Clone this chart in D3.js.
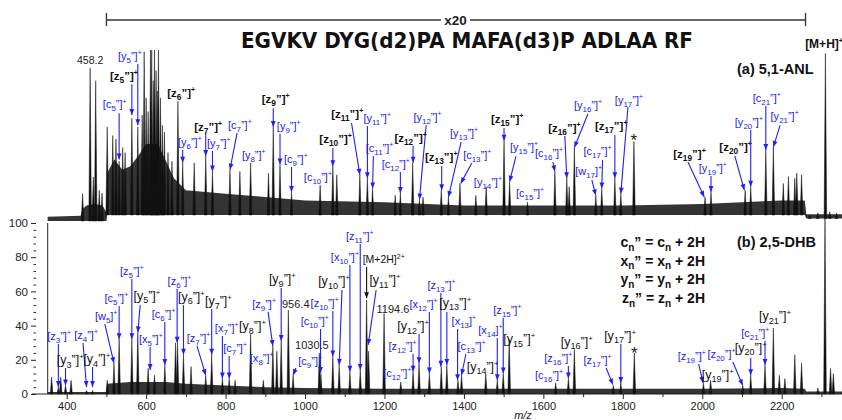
<!DOCTYPE html>
<html>
<head>
<meta charset="utf-8">
<script src="https://cdn.jsdelivr.net/npm/d3@7"></script>
<style>
  body { margin: 0; background: #fff; }
  svg { display: block; font-family: "Liberation Sans", Arial, sans-serif; }
</style>
</head>
<body>
<svg id="chart" width="842" height="420"></svg>
<script>
// MALDI-ISD spectrum, two matrices
const BLUE = "#2020f0";
const INK = "#111";

// axis ticks
const xMajor = [400, 600, 800, 1000, 1200, 1400, 1600, 1800, 2000, 2200];
const xMinor = [500, 700, 900, 1100, 1300, 1500, 1700, 1900, 2100, 2300];
const yMajor = [0, 20, 40, 60, 80, 100];
const yMinor = [4, 8, 12, 16, 24, 28, 32, 36, 44, 48, 52, 56, 64, 68, 72, 76, 84, 88, 92, 96];

// (a) 5,1-ANL : noise band [m/z, low, high] and peaks [m/z, intensity]
const topNoise = [
  [352, 0, 2.5], [435, 0, 3], [440, 0, 7], [450, 0, 9], [470, 0, 10], [490, 0, 9], [500, 0, 5],
  [502, 3.5, 28], [520, 3.5, 36], [540, 3.5, 30], [560, 3.5, 32], [580, 3.5, 38], [600, 3.5, 45],
  [630, 3.5, 45], [650, 3.5, 35], [670, 3.5, 25], [700, 3.5, 18], [800, 3.5, 16], [900, 3.5, 14],
  [1000, 3.5, 12], [1200, 3.5, 11], [1400, 3.5, 9], [1800, 3.5, 9], [2000, 3.5, 10], [2200, 3.5, 12],
  [2258, 3.5, 12], [2262, 1.5, 4], [2353, 1.5, 4]
];
const topPeaks = [
  [440, 16], [459, 89.5], [467, 25.7], [473, 82], [482, 18], [489, 16.4],
  [502, 55], [516, 50], [524, 48], [532, 35], [541, 43], [547, 40], [564, 60], [579, 55],
  [590, 62], [595, 99], [600, 72], [605, 64], [611, 100], [614, 100], [618, 82], [621, 100],
  [625, 88], [628, 76], [631, 100], [636, 72], [641, 56], [646, 52], [655, 40], [665, 35],
  [680, 70], [692, 34], [721, 34], [750, 38], [767, 29], [811, 30], [836, 29], [863, 34],
  [908, 28], [920, 55], [937, 33], [966, 17], [1038, 21], [1070, 32], [1080, 27], [1138, 27],
  [1157, 25], [1170, 19], [1227, 15], [1240, 16.4], [1271, 34], [1288, 12.5], [1297, 14],
  [1343, 18], [1361, 14], [1390, 22], [1430, 15], [1456, 20], [1501, 47], [1515, 23],
  [1560, 11], [1629, 29], [1659, 25], [1665, 20], [1678, 43], [1732, 15], [1747, 19],
  [1780, 25], [1795, 16], [1828, 46.5], [2007, 14], [2022, 17], [2108, 18], [2122, 20],
  [2160, 41.5], [2179, 43.3], [2204, 22], [2217, 26], [2233, 25], [2238, 28], [2250, 27],
  [2271, 3.5], [2291, 4.7], [2310, 98], [2321, 5.3], [2338, 4.7]
];

// (b) 2,5-DHB : noise top [m/z, high] and peaks [m/z, relative intensity %]
const botNoise = [
  [352, 1.2], [500, 1.2], [502, 6], [560, 7], [650, 7], [700, 6], [800, 5], [900, 4],
  [1000, 3.5], [1200, 3], [1600, 3], [2000, 3], [2200, 3.5], [2258, 3], [2262, 1.5], [2353, 1.5]
];
const botPeaks = [
  [362, 10], [379, 4], [385, 10], [397, 5], [411, 8], [450, 2], [465, 2],
  [502, 8], [519, 18], [532, 32], [564, 32], [579, 36], [605, 15], [621, 11], [647, 17],
  [674, 30], [679, 30], [694, 23], [713, 16], [750, 11], [765, 23], [792, 9], [809, 9],
  [824, 8], [863, 35], [895, 8], [919, 28], [929, 25], [940, 31], [958, 49], [970, 11],
  [1036, 24], [1040, 12], [1070, 22], [1086, 17], [1113, 13], [1139, 14], [1155, 55],
  [1160, 25], [1199, 47], [1241, 7], [1272, 13], [1287, 18], [1313, 12], [1343, 16],
  [1357, 17], [1385, 8], [1394, 11], [1455, 12], [1484, 8], [1499, 12], [1514, 32],
  [1631, 6.5], [1663, 9], [1678, 26], [1776, 5], [1795, 6.5], [1829, 24], [2003, 6.5],
  [2021, 8], [2102, 5], [2122, 11], [2158, 17], [2179, 38.6], [2194, 11], [2208, 9],
  [2233, 23], [2250, 18], [2291, 3.5], [2309, 105], [2323, 15], [2330, 12]
];

// ion labels: [ion (trailing _ = no primes), colour, label m/z, label intensity, arrow [m/z, I, m/z, I]]
const topIons = [
  ["z5", "k", 509, 82.5, [564, 80, 564, 62]],
  ["y5", "b", 529, 94.2, [579, 91.8, 579, 56]],
  ["c5", "b", 491, 66, [532, 63, 532, 36]],
  ["z6", "k", 653, 72.5, null],
  ["z7", "k", 721, 52.6, [750, 51, 750, 38]],
  ["c7", "b", 806, 53.8, [829, 51.5, 811, 30]],
  ["y6", "b", 680, 43.9, [692, 41.5, 692, 34]],
  ["y7", "b", 753, 43.3, [767, 41, 767, 29]],
  ["y8", "b", 841, 36.3, null],
  ["z9", "k", 891, 69, [920, 66, 920, 55]],
  ["y9", "b", 929, 53.2, [937, 51, 937, 33]],
  ["c9", "b", 947, 33.9, [966, 31.6, 966, 17]],
  ["c10", "b", 997, 23.4, null],
  ["z10", "k", 1036, 45.6, [1070, 42.7, 1070, 32]],
  ["z11", "k", 1066, 60.2, [1117, 57.3, 1138, 27]],
  ["y11", "b", 1147, 57.9, [1157, 55.6, 1157, 25]],
  ["c11", "b", 1153, 40.4, [1172, 38, 1170, 19]],
  ["z12", "k", 1225, 46.2, [1272, 44, 1272, 34]],
  ["c12", "b", 1193, 31, [1240, 28.7, 1240, 16.4]],
  ["y12", "b", 1273, 58.5, [1305, 56, 1288, 12.5]],
  ["y13", "b", 1365, 49.1, [1393, 46.2, 1361, 14]],
  ["z13", "k", 1302, 35.1, [1344, 32.2, 1344, 18]],
  ["c13", "b", 1398, 36.3, [1420, 33.9, 1392, 22]],
  ["y14", "b", 1425, 20.5, null],
  ["z15", "k", 1468, 57.3, [1501, 54.4, 1501, 47]],
  ["y15", "b", 1516, 40.9, [1531, 38, 1515, 23]],
  ["c15", "b", 1531, 14, null],
  ["c16", "b", 1579, 37.4, [1624, 34.5, 1629, 29]],
  ["z16", "k", 1612, 52, [1654, 49.7, 1659, 25]],
  ["y16", "b", 1677, 65.5, [1712, 62.6, 1678, 43]],
  ["c17", "b", 1701, 38.6, [1749, 35.7, 1747, 19]],
  ["w17_", "b", 1680, 26.9, [1722, 24, 1732, 15]],
  ["z17", "k", 1730, 53.2, [1780, 50.3, 1780, 25]],
  ["y17", "b", 1780, 68.4, [1813, 66.7, 1795, 16]],
  ["z19", "k", 1927, 36.8, [1964, 34.5, 2005, 14]],
  ["y19", "b", 1991, 28.7, [2022, 26.3, 2022, 17]],
  ["z20", "k", 2043, 40.9, [2082, 38, 2106, 18]],
  ["y20", "b", 2082, 55.6, [2122, 53.2, 2122, 20]],
  ["c21", "b", 2127, 69.6, [2160, 67.3, 2160, 41.5]],
  ["y21", "b", 2172, 59.1, [2196, 56.1, 2179, 43.3]]
];
const botIons = [
  ["z3", "b", 351, 31.6, [379, 29.2, 379, 4.1]],
  ["y3", "k", 375, 17.5, [397, 15.2, 397, 5]],
  ["z4", "b", 419, 32.2, [441, 29.8, 450, 4.1]],
  ["y4", "k", 442, 18.1, [465, 15.8, 465, 4.1]],
  ["w5_", "b", 471, 43.3, [496, 40.9, 519, 18]],
  ["c5", "b", 495, 53.8, [532, 51.5, 532, 32]],
  ["z5", "b", 534, 69.6, [564, 67.3, 564, 32]],
  ["y5", "k", 568, 55, [585, 52, 579, 36]],
  ["x5", "b", 582, 29.8, [610, 27.5, 610, 14]],
  ["c6", "b", 614, 44.4, [647, 42.1, 647, 17]],
  ["z6", "b", 654, 63.7, [678, 61.4, 678, 30]],
  ["y6", "k", 680, 54.4, [694, 52, 694, 23]],
  ["y7", "k", 748, 52, [765, 49.7, 765, 23]],
  ["z7", "b", 702, 30.4, [728, 28.1, 750, 11]],
  ["x7", "b", 773, 36.3, [792, 33.9, 792, 9]],
  ["c7", "b", 794, 24.6, [809, 22.2, 809, 9]],
  ["y8", "k", 834, 37.4, null],
  ["z9", "b", 867, 50.3, [907, 48, 919, 28]],
  ["x8", "b", 861, 18.7, null],
  ["y9", "k", 909, 64.9, [940, 62, 940, 31]],
  ["c9", "b", 983, 17, [977, 15.2, 970, 11]],
  ["c10", "b", 989, 40.4, [1039, 38, 1039, 12.3]],
  ["z10", "b", 1014, 50.9, [1070, 48.5, 1070, 22]],
  ["y10", "k", 1033, 63.7, [1093, 60.8, 1086, 17]],
  ["x10", "b", 1065, 77.8, [1113, 75.4, 1113, 13]],
  ["z11", "b", 1103, 90.1, [1139, 87.7, 1139, 14]],
  ["y11", "k", 1162, 64.3, [1179, 60.8, 1159, 28.7]],
  ["z12", "b", 1210, 25.7, [1272, 23.4, 1272, 13]],
  ["y12", "k", 1232, 37.4, [1287, 35.1, 1287, 18]],
  ["c12", "b", 1197, 9.9, null],
  ["x12", "b", 1263, 50.3, [1313, 48, 1313, 12]],
  ["z13", "b", 1308, 61.4, [1342, 59.1, 1342, 16]],
  ["y13", "k", 1338, 50.9, [1357, 48, 1357, 17]],
  ["x13_", "b", 1369, 40.4, [1384, 38, 1384, 8]],
  ["c13", "b", 1384, 25.7, [1405, 23.4, 1394, 11]],
  ["y14", "k", 1407, 13.5, null],
  ["x14_", "b", 1436, 35.1, [1484, 32.7, 1484, 8]],
  ["z15", "b", 1474, 46.8, [1499, 44.4, 1499, 12]],
  ["y15", "k", 1499, 29.8, null],
  ["z16", "b", 1602, 18.7, [1663, 16.4, 1663, 9]],
  ["c16", "b", 1579, 8.8, null],
  ["y16", "k", 1644, 28.1, null],
  ["z17", "b", 1701, 17.5, [1758, 15.2, 1775, 5.5]],
  ["y17", "k", 1753, 31.6, [1795, 29.2, 1795, 6.5]],
  ["z19", "b", 1938, 19.9, [1991, 17.5, 2002, 6.5]],
  ["z20", "b", 2013, 21.1, [2077, 18.7, 2102, 5]],
  ["y19", "k", 1999, 8.8, null],
  ["y20", "k", 2082, 24.6, [2122, 21.1, 2122, 11]],
  ["c21", "b", 2098, 33.5, [2158, 31, 2158, 17]],
  ["y21", "k", 2143, 43, null]
];

// plain text notes: [text, m/z, intensity, anchor, size]
const topNotes = [["458.2", 459, 91.8, "middle", 10.5], ["*", 1828, 43.9, "middle", 17]];
const botNotes = [
  ["956.4", 942, 50.3, "start", 11], ["1030.5", 975, 26.3, "start", 11],
  ["1194.6", 1180, 47.4, "start", 11], ["*", 1829, 20.5, "middle", 17]
];

const svg = d3.select("#chart");
const x = d3.scaleLinear().domain([400, 2200]).range([66.7, 781.7]);
const yTop = d3.scaleLinear().domain([0, 100]).range([221, 50]);
const yBot = d3.scaleLinear().domain([0, 100]).range([394, 223]);

const defs = svg.append("defs");
[["ahb", BLUE], ["ahk", INK]].forEach(([id, c]) => {
  defs.append("marker").attr("id", id)
    .attr("viewBox", "0 0 10 10").attr("refX", 10).attr("refY", 5)
    .attr("markerWidth", 7).attr("markerHeight", 6)
    .attr("markerUnits", "userSpaceOnUse").attr("orient", "auto")
    .append("path").attr("d", "M0,1L10,5L0,9Z").attr("fill", c);
});

// ---- spectra ----
const topLo = d3.scaleLinear().domain(topNoise.map(d => d[0])).range(topNoise.map(d => d[1])).clamp(true);

svg.append("path").datum(topNoise)
  .attr("fill", INK).attr("fill-opacity", 0.85)
  .attr("d", d3.area().x(d => x(d[0])).y0(d => yTop(d[1])).y1(d => yTop(d[2])));

svg.append("path").datum(botNoise)
  .attr("fill", INK).attr("fill-opacity", 0.85)
  .attr("d", d3.area().x(d => x(d[0])).y0(yBot(0)).y1(d => yBot(d[1])));

function spike(px, base, top) {
  return `M${px - 1.3},${base}L${px},${top}L${px + 1.3},${base}Z`;
}

svg.append("g").selectAll("path").data(topPeaks).join("path")
  .attr("fill", INK).attr("stroke", INK).attr("stroke-width", 0.5)
  .attr("d", d => spike(x(d[0]), yTop(topLo(d[0])), yTop(d[1])));

svg.append("g").selectAll("path").data(botPeaks).join("path")
  .attr("fill", INK).attr("stroke", INK).attr("stroke-width", 0.5)
  .attr("d", d => spike(x(d[0]), yBot(0), yBot(d[1])));

// ---- axes ----
const gx = svg.append("g").attr("transform", `translate(0,${yBot(0)})`);
gx.call(d3.axisBottom(x).tickValues(xMajor).tickSize(5).tickPadding(3).tickFormat(d3.format("d")))
  .call(g => g.select(".domain").remove());
gx.call(g => g.append("g").call(d3.axisBottom(x).tickValues(xMinor).tickSize(3).tickFormat(""))
  .call(s => s.select(".domain").remove()));
gx.attr("font-size", 11).attr("font-family", "Liberation Sans, Arial, sans-serif").attr("color", "#222");
gx.append("line").attr("x1", 32).attr("x2", 842).attr("stroke", "#222");

const gy = svg.append("g").attr("transform", "translate(36,0)");
gy.call(d3.axisLeft(yBot).tickValues(yMajor).tickSize(5).tickPadding(3))
  .call(g => g.select(".domain").remove());
gy.call(g => g.append("g").call(d3.axisLeft(yBot).tickValues(yMinor).tickSize(2.5).tickFormat(""))
  .call(s => s.select(".domain").remove()));
gy.attr("font-size", 11.5).attr("font-family", "Liberation Sans, Arial, sans-serif").attr("color", "#222");

svg.append("line").attr("x1", 47.7).attr("x2", 47.7).attr("y1", yBot(100)).attr("y2", yBot(0))
  .attr("stroke", "#222");

svg.append("text").attr("x", 523).attr("y", 419).attr("text-anchor", "middle")
  .attr("font-size", 11).attr("font-style", "italic").attr("fill", "#222").text("m/z");

// ---- annotations ----
function ionLabel(g, d, ys, kSize, kWeight, bSize) {
  const [id, col, mz, I, arr] = d;
  const black = col === "k";
  const fs = black ? kSize : bSize;
  const noPrime = id.endsWith("_");
  const letter = id[0], num = id.slice(1).replace("_", "");
  if (arr) {
    g.append("line")
      .attr("x1", x(arr[0])).attr("y1", ys(arr[1]))
      .attr("x2", x(arr[2])).attr("y2", ys(arr[3]))
      .attr("stroke", BLUE).attr("stroke-width", 1.1)
      .attr("marker-end", "url(#ahb)");
  }
  const t = g.append("text").attr("x", x(mz)).attr("y", ys(I))
    .attr("fill", black ? INK : BLUE).attr("font-size", fs)
    .attr("font-weight", black ? kWeight : "normal");
  t.append("tspan").text("[" + letter);
  t.append("tspan").attr("dy", fs * 0.28).attr("font-size", fs * 0.72).text(num);
  t.append("tspan").attr("dy", -fs * 0.28).text((noPrime ? "" : "\u201D") + "]");
  t.append("tspan").attr("dy", -fs * 0.42).attr("font-size", fs * 0.62).text("+");
}

const gTopLab = svg.append("g");
topIons.forEach(d => ionLabel(gTopLab, d, yTop, 11.5, "bold", 11));
const gBotLab = svg.append("g");
botIons.forEach(d => ionLabel(gBotLab, d, yBot, 12.5, "normal", 11));

function notes(list, ys) {
  list.forEach(([txt, mz, I, anchor, fs]) => {
    svg.append("text").attr("x", x(mz)).attr("y", ys(I)).attr("text-anchor", anchor)
      .attr("font-size", fs).attr("fill", "#222").text(txt);
  });
}
notes(topNotes, yTop);
notes(botNotes, yBot);

// [M+2H]2+ with black arrow
svg.append("line").attr("x1", x(1155)).attr("y1", yBot(74.3)).attr("x2", x(1155)).attr("y2", yBot(56))
  .attr("stroke", INK).attr("stroke-width", 1.1).attr("marker-end", "url(#ahk)");
const m2 = svg.append("text").attr("x", x(1145)).attr("y", yBot(76.6)).attr("font-size", 10.5).attr("fill", INK);
m2.append("tspan").text("[M+2H]");
m2.append("tspan").attr("dy", -4).attr("font-size", 7).text("2+");

// [M+H]+
const mh = svg.append("text").attr("x", x(2259)).attr("y", yTop(101.2)).attr("font-size", 12)
  .attr("font-weight", "bold").attr("fill", INK);
mh.append("tspan").text("[M+H]");
mh.append("tspan").attr("dy", -5).attr("font-size", 7.5).text("+");

// ×20 bracket and title
const br = svg.append("g").attr("stroke", "#333").attr("stroke-width", 1.3);
br.append("line").attr("x1", x(500)).attr("x2", 441).attr("y1", 20).attr("y2", 20);
br.append("line").attr("x1", 470).attr("x2", x(2260)).attr("y1", 20).attr("y2", 20);
br.append("line").attr("x1", x(500)).attr("x2", x(500)).attr("y1", 13).attr("y2", 26);
br.append("line").attr("x1", x(2260)).attr("x2", x(2260)).attr("y1", 13).attr("y2", 26);
svg.append("text").attr("x", 455.5).attr("y", 25).attr("text-anchor", "middle")
  .attr("font-size", 13.5).attr("font-weight", "bold").attr("fill", "#222").text("x20");

svg.append("text").attr("x", 241).attr("y", 48)
  .attr("font-family", "DejaVu Sans, Verdana, sans-serif").attr("font-weight", "bold")
  .attr("font-size", 21).attr("fill", INK)
  .attr("textLength", 452).attr("lengthAdjust", "spacingAndGlyphs")
  .text("EGVKV DYG(d2)PA MAFA(d3)P ADLAA RF");

svg.append("text").attr("x", 737).attr("y", 74).attr("font-size", 14.5).attr("font-weight", "bold")
  .attr("fill", INK).text("(a) 5,1-ANL");
svg.append("text").attr("x", 737).attr("y", 247).attr("font-size", 14.5).attr("font-weight", "bold")
  .attr("fill", INK).text("(b) 2,5-DHB");

// equation block
const eqs = ["c", "x", "y", "z"];
eqs.forEach((c, i) => {
  const t = svg.append("text").attr("x", 705).attr("y", 247 + i * 18.7).attr("text-anchor", "end")
    .attr("font-size", 14).attr("font-weight", "bold").attr("fill", INK);
  t.append("tspan").text(c);
  t.append("tspan").attr("dy", 3.5).attr("font-size", 10).text("n");
  t.append("tspan").attr("dy", -3.5).text("\u201D = " + c);
  t.append("tspan").attr("dy", 3.5).attr("font-size", 10).text("n");
  t.append("tspan").attr("dy", -3.5).text(" + 2H");
});
</script>
</body>
</html>
